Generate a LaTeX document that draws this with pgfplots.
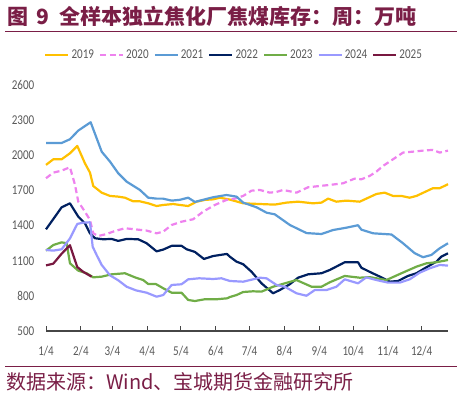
\documentclass[border=0pt]{standalone}
\usepackage{pgfplots}
\pgfplotsset{compat=1.18}
\usepackage{fontspec}
\setmainfont{Carlito}
\newfontfamily\cjk{Noto Sans CJK SC}
\newfontfamily\tickfont[FakeStretch=0.82]{Carlito}

\definecolor{c2019}{RGB}{255,192,0}
\definecolor{c2020}{RGB}{238,130,238}
\definecolor{c2021}{RGB}{91,155,213}
\definecolor{c2022}{RGB}{0,32,96}
\definecolor{c2023}{RGB}{112,173,71}
\definecolor{c2024}{RGB}{153,153,255}
\definecolor{c2025}{RGB}{120,24,64}
\definecolor{titlecol}{RGB}{122,30,70}
\definecolor{tickgray}{RGB}{89,89,89}
\definecolor{axisgray}{RGB}{70,70,70}

\begin{document}
\begin{tikzpicture}[x=1pt,y=1pt]
\path (0,0) rectangle (465,400);
\node[anchor=west, inner sep=0pt, text=titlecol, font=\cjk\bfseries\fontsize{21}{24}\selectfont]
  at (7,384) {图\hspace{8.5pt}9\hspace{10pt}全样本独立焦化厂焦煤库存：周：万吨};
\draw[titlecol, line width=0.8pt] (5,368.3) -- (457,368.3);
\draw[titlecol, line width=0.8pt] (5,33.3) -- (457,33.3);
\node[anchor=west, inner sep=0pt, text=titlecol, font=\cjk\fontsize{20}{24}\selectfont]
  at (6,18) {数据来源：Wind、宝城期货金融研究所};

\begin{axis}[
    at={(46pt,69pt)}, anchor=south west,
    scale only axis, width=402pt, height=246pt,
    xmin=0, xmax=357.4, ymin=500, ymax=2600,
    axis x line*=bottom, axis y line*=left,
    y axis line style={draw=none},
    x axis line style={draw=axisgray, line width=1.1pt},
    xtick={0,31,59,90,120,151,181,212,243,273,304,334},
    xticklabels={1/4,2/4,3/4,4/4,5/4,6/4,7/4,8/4,9/4,10/4,11/4,12/4},
    ytick={500,800,...,2600},
    tick align=inside,
    major tick length=5pt,
    xtick style={draw=axisgray, line width=1pt},
    ytick style={draw=none},
    ticklabel style={font=\tickfont\fontsize{13.5}{15}\selectfont, text=tickgray},
    xticklabel style={anchor=center, inner sep=0pt, yshift=-20.5pt},
    yticklabel style={anchor=east, inner sep=0pt, xshift=-11.5pt},
    /pgf/number format/assume math mode=true,
    /pgf/number format/1000 sep={},
    scaled y ticks=false,
    clip=false,
    legend columns=-1,
    legend style={at={(0.468,1.122)}, anchor=center, draw=none, fill=none,
        font=\tickfont\fontsize{13.5}{15}\selectfont, text=tickgray,
        /tikz/every even column/.append style={column sep=3pt}},
    legend image code/.code={\draw[#1] (0pt,0pt) -- (23pt,0pt);},
    every axis plot/.append style={line width=2.2pt, no markers, line join=round},
]

% 2019
\addplot[c2019] coordinates {
(0,1918)(6.5,1966)(13.9,1966)(21.3,2017)(27.8,2080)(34.6,1932)(39.1,1852)(42,1738)
(49.5,1681)(56.9,1653)(64.2,1647)(70.2,1638)(77.5,1607)(83.5,1607)(90.9,1590)(98.3,1567)
(104.2,1576)(113.1,1584)(119,1576)(126.4,1567)(133.9,1604)(141.2,1619)(148.6,1624)(154.6,1638)
(163.4,1622)(175.3,1590)(190.1,1584)(203.4,1579)(213.8,1596)(224.1,1604)(237.4,1590)(244.9,1596)
(250.8,1630)(258.2,1604)(267.1,1613)(278.9,1604)(293.8,1670)(301.1,1681)(308.5,1653)(316,1653)
(323.3,1638)(329.3,1653)(344,1719)(350,1719)(357.4,1753)};

% 2020
\addplot[c2020, dash pattern=on 6pt off 3.5pt] coordinates {
(0,1804)(6.5,1852)(13.9,1869)(21.3,1898)(25.8,1747)(28.7,1604)(34.6,1519)(39.1,1448)
(42,1334)(46.5,1311)(53.9,1328)(61.3,1354)(70.2,1377)(79.1,1368)(89.5,1357)(98.3,1334)
(104.2,1348)(111.7,1405)(120.5,1433)(130.8,1454)(139.7,1519)(150.1,1576)(160.5,1619)(167.9,1630)
(175.3,1653)(182.7,1698)(190.1,1704)(199,1681)(204.9,1687)(210.8,1704)(222.7,1681)(233,1727)
(243.4,1738)(252.3,1747)(264.1,1761)(274.5,1801)(280.4,1795)(287.8,1824)(293.8,1861)(299.6,1909)
(308.5,1966)(317.4,2023)(326.3,2031)(335.2,2040)(344,2046)(350,2023)(357.4,2040)};

% 2021
\addplot[c2021] coordinates {
(0,2105)(13.9,2105)(21.3,2137)(28.7,2211)(39.7,2282)(49.5,2031)(56.9,1946)(64.2,1847)
(71.7,1775)(83.5,1704)(90.9,1638)(98.3,1630)(104,1630)(111.7,1613)(119,1620)(126.4,1638)
(132.4,1602)(139.7,1620)(148.6,1642)(160.5,1661)(169.4,1647)(175.3,1596)(187.2,1556)(196.1,1510)
(203.4,1496)(216.8,1405)(231.6,1336)(244.9,1328)(255.2,1362)(267.1,1382)(277.4,1403)(280.4,1365)
(290.8,1334)(307.1,1324)(317.4,1249)(327.8,1164)(335.2,1130)(342.6,1149)(350,1206)(357.4,1249)};

% 2022
\addplot[c2022] coordinates {
(0,1368)(8,1476)(13.9,1556)(21.3,1590)(28.7,1476)(34.6,1420)(39.1,1334)(43.5,1292)
(50.9,1283)(58.4,1286)(64.2,1269)(71.7,1286)(82,1283)(89.5,1249)(98.3,1180)(104.2,1195)
(111.7,1227)(120.5,1227)(125,1198)(132.4,1175)(140.4,1115)(148.6,1140)(160.8,1158)(163.4,1135)
(169.4,1092)(175.3,1070)(182.7,1006)(191.6,907)(201.9,822)(207.9,850)(216.7,899)(224.1,955)
(233,984)(244.9,993)(252.3,1021)(265.6,1087)(277.4,1087)(280.4,1040)(289.3,998)(298.2,958)
(305.6,921)(313,927)(321.8,970)(329.3,993)(338.2,1044)(347.1,1092)(351.5,1135)(357.4,1163)};

% 2023
\addplot[c2023] coordinates {
(0,1186)(6.5,1234)(13.9,1257)(18.4,1249)(21.3,1078)(28.7,1015)(36.2,993)(42,958)
(49.5,964)(58.4,984)(70.2,993)(79.1,958)(86.4,935)(90.9,901)(97.7,901)(104.2,865)
(111.7,827)(120.5,827)(126.4,765)(132.4,756)(141.2,771)(151.6,771)(161,779)(163.4,790)
(169.4,807)(175.3,833)(184,839)(191.6,836)(201.9,878)(212.3,907)(222.7,935)(236.1,878)
(244.9,878)(252.3,916)(265.6,970)(278.9,955)(287.8,960)(302.6,935)(316,993)(329.3,1049)
(338.2,1078)(347.1,1087)(357.4,1106)};

% 2024
\addplot[c2024] coordinates {
(0,1192)(6.5,1186)(13.9,1198)(21.3,1290)(27.8,1414)(33.1,1425)(39.1,1428)(41.5,1220)
(45,1149)(49.5,1064)(56.9,975)(64.2,933)(71.7,878)(80,847)(89.5,827)(98.3,793)
(104.2,807)(111.7,893)(120.5,899)(126.4,941)(136.1,950)(148.6,944)(156,950)(163.4,927)
(175.3,921)(190.1,955)(196,950)(204.9,893)(212.3,878)(222.7,822)(231.6,801)(239,850)
(249.4,850)(258.2,878)(265.6,941)(277.4,907)(284.8,958)(293.8,935)(304.1,913)(314.5,913)
(323.3,941)(332.2,998)(341.1,1035)(350,1064)(357.4,1058)};

% 2025
\addplot[c2025] coordinates {
(0,1060)(6.5,1075)(13.9,1160)(21.3,1232)(27.8,1046)(33.1,1005)(40.5,964)};

\legend{2019,2020,2021,2022,2023,2024,2025}
\end{axis}
\end{tikzpicture}
\end{document}
